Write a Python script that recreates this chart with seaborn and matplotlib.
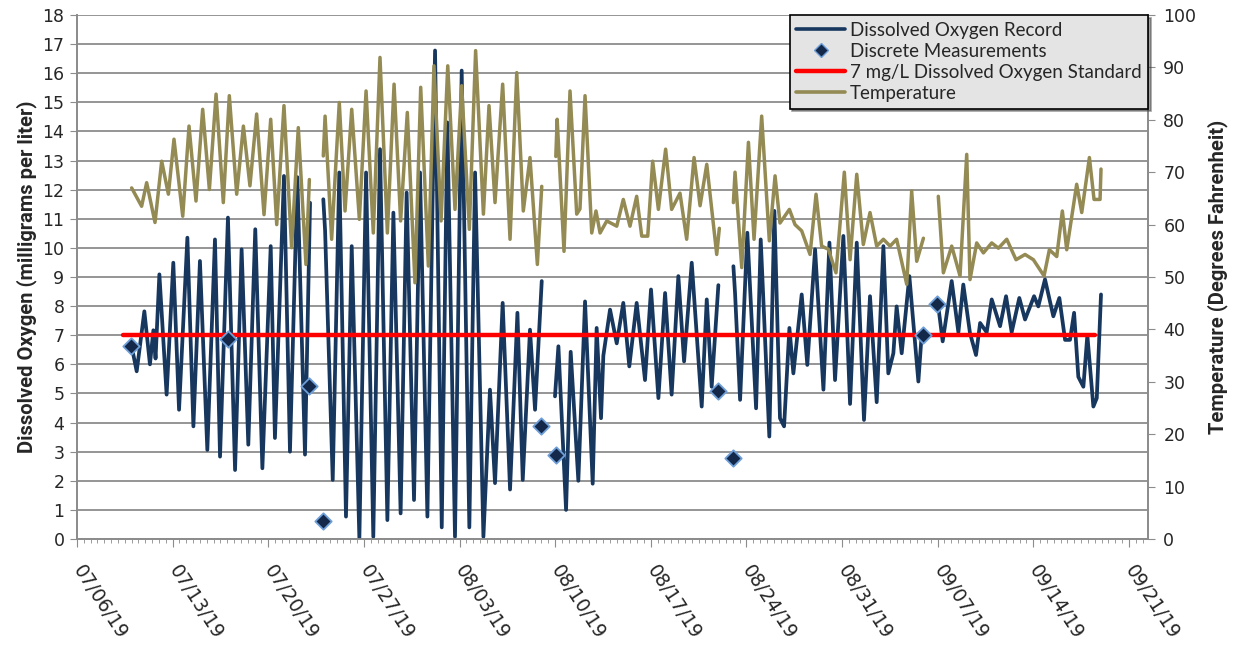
import numpy as np
import pandas as pd
import matplotlib
matplotlib.use("Agg")
import matplotlib.pyplot as plt
import matplotlib.dates as mdates
from matplotlib.lines import Line2D
from matplotlib import font_manager
import seaborn as sns

START = pd.Timestamp("2019-07-06")

# ---- data (days after 07/06/19 00:00; None = gap in record) ----
do_days = [4.00, 4.37, 4.93, 5.34, 5.59, 5.75, 6.03, 6.56, 7.05, 7.47, 8.08, 8.52, 9.00, 9.54,
           10.10, 10.47, 11.05, 11.57, 12.05, 12.54, 13.05, 13.57, 14.18, 14.49, 15.15, 15.59,
           16.13, 16.69, 17.06, 17.5,
           18.03, 18.16, 18.72, 19.20, 19.69, 20.11, 20.67, 21.16, 21.69, 22.18, 22.72, 23.16,
           23.69, 24.13, 24.67, 25.11, 25.65, 26.21, 26.70, 27.11, 27.67, 28.16, 28.72, 29.14,
           29.75, 30.23, 30.60, 31.16, 31.70, 32.24, 32.63, 33.16, 33.53, 34.02, 34.5,
           34.99, 35.24, 35.80, 36.14, 36.70, 37.19, 37.75, 38.04, 38.36, 38.53, 39.02, 39.51,
           39.99, 40.43, 40.97, 41.58, 42.02, 42.56, 43.05, 43.53, 44.02, 44.44, 45.00, 45.73,
           46.10, 46.46, 46.95, 47.5,
           48.05, 48.17, 48.54, 49.07, 49.71, 50.05, 50.68, 51.05, 51.46, 51.76, 52.15, 52.44,
           53.05, 53.46, 54.03, 54.64, 55.08, 55.49, 56.10, 56.59, 57.08, 57.61, 58.05, 58.54,
           59.03, 59.39, 59.76, 60.00, 60.37, 60.93, 61.59, 61.84, 62.4,
           63.05, 63.37, 64.03, 64.52, 64.88, 65.37, 65.81, 66.11, 66.59, 66.96, 67.57, 68.01,
           68.42, 68.98, 69.40, 70.06, 70.37, 70.86, 71.47, 71.91, 72.33, 72.69, 72.99, 73.30,
           73.67, 73.96, 74.40, 74.65, 74.96]
do_values = [6.62, 5.76, 7.82, 6.0, 7.17, 6.2, 9.09, 4.96, 9.49, 4.44, 10.35, 3.87, 9.55, 3.06,
             10.29, 2.83, 11.04, 2.37, 9.95, 3.24, 10.64, 2.43, 10.06, 3.47, 12.47, 3.0,
             12.43, 2.9, 11.55, None,
             11.67, 10.6, 2.03, 12.59, 0.77, 10.06, 0.02, 12.59, 0.08, 13.39, 0.65, 11.21,
             0.88, 11.9, 1.34, 12.59, 0.77, 16.78, 0.4, 14.31, 0.08, 16.09, 0.4, 12.59,
             0.08, 5.13, 1.92, 8.11, 1.7, 7.77, 2.03, 7.19, 4.44, 8.86, None,
             4.9, 6.62, 1.0, 6.43, 2.0, 8.16, 1.9, 7.25, 4.15, 6.3, 7.88, 6.72,
             8.11, 5.93, 8.11, 5.46, 8.57, 4.84, 8.45, 4.96, 9.03, 6.1, 9.49, 4.55,
             8.23, 5.23, 8.72, None,
             9.37, 8.45, 4.78, 10.52, 4.49, 10.29, 3.52, 11.27, 4.15, 3.87, 7.25, 5.69,
             8.4, 5.98, 9.95, 5.13, 10.18, 5.46, 10.41, 4.64, 10.18, 4.09, 8.34, 4.7,
             10.06, 5.69, 6.38, 7.99, 6.38, 9.03, 5.41, 7.07, None,
             7.99, 6.79, 8.86, 7.1, 8.74, 7.07, 6.32, 7.42, 7.1, 8.23, 7.31, 8.34,
             7.1, 8.28, 7.54, 8.34, 7.99, 8.92, 7.65, 8.28, 6.84, 6.84, 7.77, 5.57,
             5.23, 7.0, 4.55, 4.84, 8.4]

temp_days = [4.00, 4.73, 5.10, 5.71, 6.20, 6.69, 7.10, 7.74, 8.20, 8.71, 9.20, 9.69, 10.18,
             10.71, 11.15, 11.69, 12.18, 12.66, 13.15, 13.69, 14.18, 14.62, 15.15, 15.71,
             16.20, 16.76, 17.01, 17.5,
             18.03, 18.16, 18.64, 19.20, 19.62, 20.11, 20.67, 21.16, 21.69, 22.18, 22.72,
             23.21, 23.69, 24.18, 24.74, 25.16, 25.72, 26.13, 26.65, 27.14, 27.67, 28.16,
             28.72, 29.18, 29.75, 30.16, 30.60, 31.16, 31.70, 32.19, 32.67, 33.16, 33.70,
             34.02, 34.5,
             35.05, 35.15, 35.65, 36.09, 36.58, 36.82, 37.19, 37.68, 37.99, 38.29, 38.78,
             39.51, 39.99, 40.48, 40.97, 41.34, 41.78, 42.14, 42.56, 43.09, 43.53, 44.14,
             44.63, 45.17, 45.61, 46.10, 46.83, 47.02, 47.5,
             48.05, 48.17, 48.66, 49.15, 49.56, 50.12, 50.68, 51.10, 51.46, 52.15, 52.56,
             53.05, 53.66, 54.10, 54.51, 55.00, 55.56, 56.17, 56.59, 57.08, 57.56, 58.05,
             58.54, 59.03, 59.52, 60.00, 60.74, 61.10, 61.47, 61.96, 62.5,
             63.05, 63.42, 64.03, 64.64, 65.13, 65.37, 65.86, 66.35, 66.96, 67.45, 68.06,
             68.74, 69.40, 70.01, 70.79, 71.18, 71.72, 72.13, 72.45, 73.18, 73.55, 74.11,
             74.45, 74.89, 74.96]
temp_values = [67.0, 63.5, 68.0, 60.4, 72.1, 65.8, 76.3, 61.6, 78.8, 64.5, 82.0, 66.7, 84.9,
               64.2, 84.6, 65.8, 78.8, 67.4, 81.1, 61.9, 80.1, 60.0, 82.7, 55.6,
               78.5, 52.4, 68.6, None,
               73.1, 80.7, 57.2, 83.3, 62.6, 82.0, 61.0, 85.5, 58.4, 91.9, 58.4,
               86.8, 60.7, 81.4, 48.9, 86.2, 52.1, 90.3, 60.7, 90.3, 62.9, 86.5,
               59.1, 93.2, 62.0, 82.7, 64.2, 86.8, 57.2, 89.0, 62.6, 72.8, 52.4,
               67.3, None,
               73.0, 80.1, 54.9, 85.5, 62.0, 63.0, 84.6, 58.4, 62.6, 58.4, 60.7,
               59.7, 64.8, 59.7, 65.4, 57.8, 57.8, 72.1, 62.9, 74.4, 62.9, 66.0,
               57.2, 72.8, 63.6, 71.5, 54.3, 59.3, None,
               64.2, 70.0, 51.8, 75.7, 57.2, 80.7, 56.9, 69.3, 60.3, 62.9, 60.0,
               58.8, 54.3, 65.8, 55.9, 55.3, 50.8, 70.0, 53.3, 69.6, 56.2, 62.3,
               55.9, 57.2, 55.9, 57.2, 48.6, 66.4, 53.0, 57.4, None,
               65.4, 50.8, 55.9, 50.2, 73.4, 49.5, 56.5, 54.6, 56.5, 55.5, 57.2,
               53.3, 54.3, 53.3, 50.2, 55.2, 53.9, 62.6, 55.2, 67.7, 62.3, 72.8,
               64.8, 64.8, 70.6]

meas_days = [3.95, 11.03, 17.00, 18.03, 33.95, 35.04, 46.95, 47.99, 61.91, 62.93]
meas_values = [6.62, 6.88, 5.24, 0.62, 3.87, 2.89, 5.1, 2.78, 7.0, 8.06]

std_days = [3.35, 74.5]
std_values = [7, 7]

tick_dates = ["2019-07-06", "2019-07-13", "2019-07-20", "2019-07-27", "2019-08-03", "2019-08-10",
              "2019-08-17", "2019-08-24", "2019-08-31", "2019-09-07", "2019-09-14", "2019-09-21"]


def to_time(days):
    return START + pd.to_timedelta(np.asarray(days, dtype=float), unit="D")


def segmented(days, values):
    df = pd.DataFrame({"time": to_time(days), "value": pd.to_numeric(pd.Series(values), errors="coerce")})
    df["segment"] = df["value"].isna().cumsum()
    return df.dropna()


def bold_family():
    for fam in ["Roboto", "Open Sans", "Liberation Sans", "Noto Sans", "DejaVu Sans"]:
        try:
            path = font_manager.findfont(font_manager.FontProperties(family=fam, weight="bold"),
                                         fallback_to_default=False)
        except Exception:
            continue
        if "bold" in path.lower() and fam.replace(" ", "").lower() in path.replace(" ", "").replace("-", "").lower():
            return fam
    return "DejaVu Sans"


do_df = segmented(do_days, do_values)
temp_df = segmented(temp_days, temp_values)
meas_df = pd.DataFrame({"time": to_time(meas_days), "value": meas_values})
std_df = pd.DataFrame({"time": to_time(std_days), "value": std_values})

# ---- style ----
sns.set_style("white")
plt.rcParams["font.family"] = ["DejaVu Sans"]

DO_COL = "#17375E"
TEMP_COL = "#948A54"
STD_COL = "#FF0000"
GRID_COL = "#8c8c8c"
BOLD_FAM = bold_family()
label_fp = font_manager.FontProperties(family=BOLD_FAM, weight="bold", size=14.5)

fig = plt.figure(figsize=(12.33, 6.52), dpi=100)
ax = fig.add_axes([77 / 1233, 1 - 539 / 652, (1148 - 77) / 1233, (539 - 15) / 652])
ax2 = ax.twinx()

sns.lineplot(data=do_df, x="time", y="value", units="segment", estimator=None,
             color=DO_COL, lw=2.7, ax=ax, zorder=3, solid_joinstyle="round")
sns.lineplot(data=std_df, x="time", y="value", color=STD_COL, lw=3.2, ax=ax, zorder=4)
sns.scatterplot(data=meas_df, x="time", y="value", marker="D", s=70, color="#14284a",
                edgecolor="#6f9fd8", linewidth=1.3, ax=ax, zorder=5)
sns.lineplot(data=temp_df, x="time", y="value", units="segment", estimator=None,
             color=TEMP_COL, lw=2.5, ax=ax2, zorder=3, solid_joinstyle="round")

# axes limits & ticks
ax.set_xlim(START, START + pd.Timedelta(days=78.4))
ax.set_ylim(0, 18)
ax.set_yticks(range(0, 19))
ax2.set_ylim(0, 100)
ax2.set_yticks(range(0, 101, 10))

ax.set_xticks(pd.to_datetime(tick_dates))
ax.xaxis.set_major_formatter(mdates.DateFormatter("%m/%d/%y"))
ax.xaxis.set_minor_locator(mdates.HourLocator(byhour=[0, 12]))

ax.grid(axis="y", color=GRID_COL, lw=1.3)
ax.grid(axis="x", visible=False)
ax2.grid(False)

for a in (ax, ax2):
    a.spines["top"].set_visible(False)
    for side in ("left", "bottom", "right"):
        a.spines[side].set_color(GRID_COL)
        a.spines[side].set_linewidth(1.3)

ax.tick_params(axis="y", which="major", direction="out", length=5, color=GRID_COL,
               labelsize=12.5, pad=4, left=True)
ax.tick_params(axis="x", which="major", direction="out", length=6, color=GRID_COL,
               labelsize=13.5, pad=14, bottom=True)
ax.tick_params(axis="x", which="minor", direction="out", length=3, color=GRID_COL, bottom=True)
ax2.tick_params(axis="y", direction="out", length=5, color=GRID_COL, labelsize=12.5, pad=6, right=True)

for lbl in ax.get_xticklabels():
    lbl.set_rotation(-57)
    lbl.set_ha("left")
    lbl.set_va("center")
    lbl.set_rotation_mode("anchor")

ax.set_xlabel("")
ax.set_ylabel("Dissolved Oxygen (milligrams per liter)", fontproperties=label_fp, labelpad=4)
ax2.set_ylabel("Temperature (Degrees Fahrenheit)", fontproperties=label_fp, labelpad=8)

handles = [
    Line2D([], [], color=DO_COL, lw=2.6),
    Line2D([], [], color="#14284a", marker="D", markersize=7, markeredgecolor="#6f9fd8", lw=0),
    Line2D([], [], color=STD_COL, lw=3.2),
    Line2D([], [], color=TEMP_COL, lw=2.6),
]
labels = ["Dissolved Oxygen Record", "Discrete Measurements",
          "7 mg/L Dissolved Oxygen Standard", "Temperature"]
leg = ax2.legend(handles, labels, loc="upper right", bbox_to_anchor=(1.0, 1.0), borderaxespad=0,
                 frameon=True, fancybox=False, shadow=True,
                 prop={"family": ["Lato", "DejaVu Sans"], "size": 13.5},
                 handlelength=2.6, handletextpad=0.25, labelspacing=0.22, borderpad=0.35)
leg.get_frame().set_facecolor("#e4e4e4")
leg.get_frame().set_edgecolor("black")
leg.get_frame().set_linewidth(1.2)
leg.get_frame().set_alpha(1)

fig.savefig("out.png", dpi=100)
